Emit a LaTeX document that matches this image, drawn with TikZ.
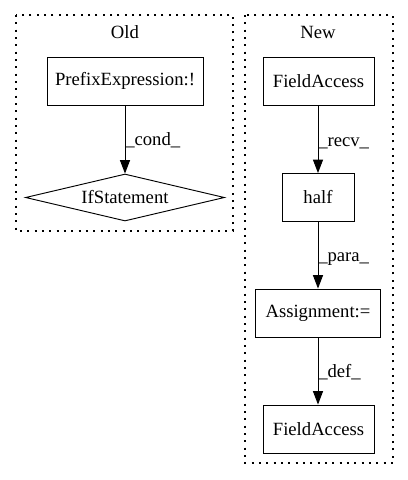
\documentclass[tikz,border=0pt]{standalone}
\usepackage{fontspec}
\setmainfont{Liberation Serif}
\usetikzlibrary{shapes.geometric,arrows.meta}
\begin{document}
\begin{tikzpicture}[x=0.75pt,y=-0.75pt,
  font=\fontsize{14}{16}\selectfont,
  every node/.style={inner sep=0pt},
  box/.style={draw,line width=0.7pt,rectangle,minimum height=36pt},
  dia/.style={draw,line width=0.7pt,diamond,aspect=4.2,minimum width=149.25pt,minimum height=35.25pt},
  cluster/.style={draw,line width=0.8pt,dash pattern=on 1.5pt off 4pt},
  edge/.style={draw,line width=0.7pt,-{Triangle[length=10pt,width=7.5pt]}},
  elabel/.style={anchor=west}]
\useasboundingbox (0,0) rectangle (408,480);
% clusters
\draw[cluster] (16,15) rectangle (233,231);
\draw[cluster] (245,15) rectangle (393,463);
\node (told) at (125,32) {Old};
\node (tnew) at (318,32) {New};
% Old
\node[box,minimum width=117pt] (prefix) at (125,81) {PrefixExpression:!};
\node[dia] (ifs) at (125,197.5) {IfStatement};
% New
\node[box,minimum width=83.25pt] (fa1) at (318.5,81) {FieldAccess};
\node[box,minimum width=54pt] (half) at (318,197.5) {half};
\node[box,minimum width=93.75pt] (assign) at (318,313) {Assignment:=};
\node[box,minimum width=83.25pt] (fa2) at (318.5,429) {FieldAccess};
% edges
\draw[edge] (prefix.south) -- (ifs.north);
\draw[edge] (fa1.south -| half.north) -- (half.north);
\draw[edge] (half.south) -- (assign.north);
\draw[edge] (assign.south) -- (assign.south |- fa2.north);
% labels
\node[elabel] (lcond) at (125,140) {\_cond\_};
\node[elabel] (lrecv) at (318,143) {\_recv\_};
\node[elabel] (lpara) at (318,259) {\_para\_};
\node[elabel] (ldef) at (318,372) {\_def\_};
\end{tikzpicture}
\end{document}
